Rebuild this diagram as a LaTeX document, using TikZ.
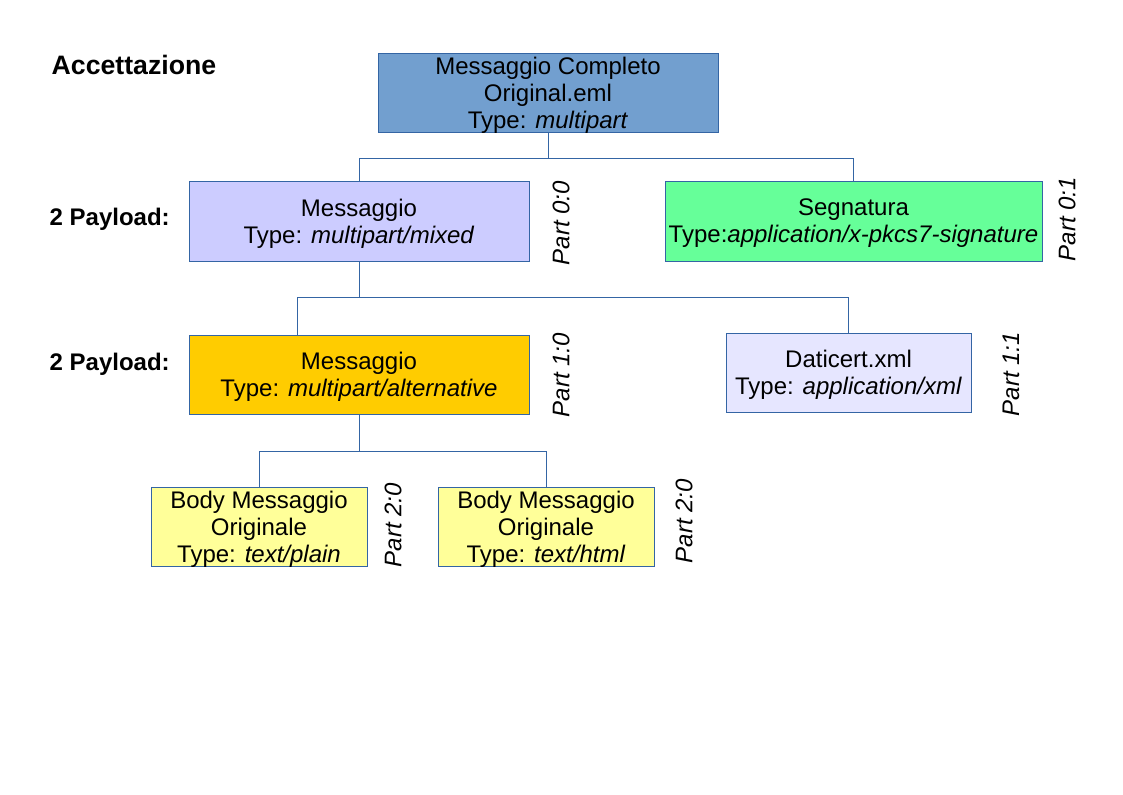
\documentclass[tikz,border=0pt]{standalone}
\usepackage{fontspec}
\setmainfont{Liberation Sans}
\usepackage{tikz}
\usepackage{xcolor}
\definecolor{box-border}{HTML}{3465A4}
\definecolor{full-fill}{HTML}{729FCF}
\definecolor{mixed-fill}{HTML}{CCCCFF}
\definecolor{sign-fill}{HTML}{66FF99}
\definecolor{alt-fill}{HTML}{FFCC00}
\definecolor{xml-fill}{HTML}{E6E6FF}
\definecolor{body-fill}{HTML}{FFFF99}
\tikzset{
    part-box/.style = {draw=box-border, line width=0.6pt, rectangle, align=center, inner sep=0pt, text depth=0pt, font=\fontsize{18}{20.25}\selectfont},
    part-label/.style = {rotate=90, font=\fontsize{18}{20.25}\selectfont\itshape},
    level-label/.style = {anchor=west, font=\fontsize{18}{20.25}\selectfont\bfseries},
    tree-line/.style = {draw=box-border, line width=0.6pt},
}

\begin{document}
\begin{tikzpicture}[x=0.75pt, y=-0.75pt]
\useasboundingbox (0,0) rectangle (1123,794);
\node[level-label, font=\fontsize{20}{22}\selectfont\bfseries] (title) at (47,65) {Accettazione};
\node[level-label] (lvl1) at (45,219) {2 Payload:};
\node[level-label] (lvl2) at (45,364) {2 Payload:};

\node[part-box, fill=full-fill, minimum width=255pt, minimum height=59.25pt] (full) at (548,92.5) {Messaggio Completo\\Original.eml\\Type: \textit{multipart}};
\node[part-box, fill=mixed-fill, minimum width=255pt, minimum height=60pt] (mixed) at (359,221) {Messaggio\\Type: \textit{multipart/mixed}};
\node[part-box, fill=sign-fill, minimum width=282.75pt, minimum height=60pt] (sign) at (853.5,221) {Segnatura\\Type:\textit{application/x-pkcs7-signature}};
\node[part-box, fill=alt-fill, minimum width=255pt, minimum height=59.25pt] (alt) at (359,374.5) {Messaggio\\Type: \textit{multipart/alternative}};
\node[part-box, fill=xml-fill, minimum width=183.75pt, minimum height=59.25pt] (daticert) at (848.5,372.5) {Daticert.xml\\Type: \textit{application/xml}};
\node[part-box, fill=body-fill, minimum width=162pt, minimum height=59.25pt] (plain) at (259,526.5) {Body Messaggio\\Originale\\Type: \textit{text/plain}};
\node[part-box, fill=body-fill, minimum width=162pt, minimum height=59.25pt] (html) at (546,526.5) {Body Messaggio\\Originale\\Type: \textit{text/html}};

\node[part-label] (p00) at (561,223) {Part 0:0};
\node[part-label] (p01) at (1067,219) {Part 0:1};
\node[part-label] (p10) at (561,375) {Part 1:0};
\node[part-label] (p11) at (1011,374) {Part 1:1};
\node[part-label] (p20a) at (393,525) {Part 2:0};
\node[part-label] (p20b) at (684,521) {Part 2:0};

% tree
\draw[tree-line] (full.south) -- ++(0,26) coordinate (j0);
\draw[tree-line] (j0) -| (mixed.north);
\draw[tree-line] (j0) -| (sign.north);
\draw[tree-line] (mixed.south) -- ++(0,36) coordinate (j1);
\draw[tree-line] (j1) -| ([xshift=-46.5pt]alt.north);
\draw[tree-line] (j1) -| (daticert.north);
\draw[tree-line] (alt.south) -- ++(0,37) coordinate (j2);
\draw[tree-line] (j2) -| (plain.north);
\draw[tree-line] (j2) -| (html.north);
\end{tikzpicture}
\end{document}
